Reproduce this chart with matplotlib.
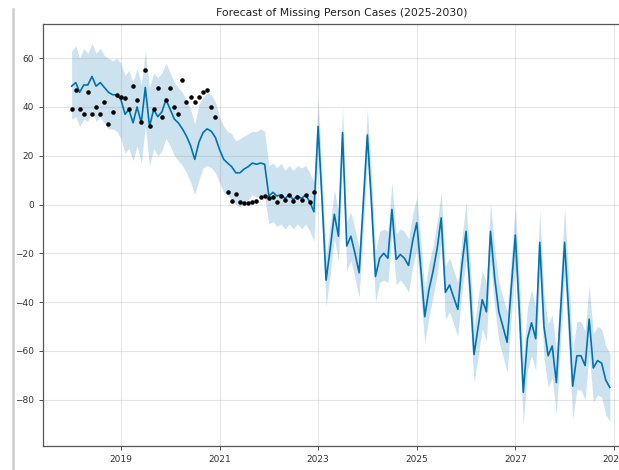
import pandas as pd
import numpy as np
import matplotlib
matplotlib.use('Agg')
import matplotlib.pyplot as plt
from matplotlib.lines import Line2D

# monthly history, Jan 2018 - Dec 2022 (None = no observation)
y_hist = [39, 47, 39, 37, 46, 37, 40, 37, 42, 33, 38, 45,
          44, 43.5, 39, 48.5, 42.7, 34, 55, 32, 39, 47.6, 35.7, 42.7,
          47.6, 40, 37, 51, 42, 44, 42, 44, 46, 47, 40, 36,
          None, None, 5, 1.5, 4.5, 1, 0.5, 0.5, 1, 1.5, 3, 3.5,
          2.5, 3, 1, 3.5, 2, 4, 1.5, 3, 2, 4, 1, 5]

# fitted + forecast, Jan 2018 - Dec 2028
yhat = [48.5, 50, 46, 49, 49, 52.5, 48.5, 50, 48, 46, 45, 45,
        43, 37, 39, 33.5, 40, 33.5, 48, 32, 39, 36, 38, 43,
        39, 35, 33.5, 31, 28, 24, 18.5, 25.5, 29.5, 31, 30, 27.5,
        22.5, 18.5, 17, 15.5, 13, 13, 14.5, 15.5, 17, 16.5, 17, 16.5,
        3.5, 5, 3.5, 4, 2.5, 4, 2, 3.5, 2.5, 4, 1, -3,
        32, 0, -31, -18, -4, -13, 29.5, -17, -13, -20, -28, 0,
        28.5, 0, -29.5, -22, -20, -22, -2, -22.5, -20.5, -22, -25, -15,
        -7.5, -27, -46, -35, -27.5, -18, -5.5, -36, -33, -38, -43, -25,
        -11, -36, -61.5, -50, -39, -44, -11, -30, -44, -50, -56.5, -35,
        -12.5, -45, -77, -55, -48.5, -55, -15.5, -50, -62, -58, -73, -45,
        -15.5, -45, -74.5, -62, -62, -66, -47, -67, -64, -65, -72, -75]

yhat_lower = [35, 36, 32, 35, 34, 39, 34, 36, 33, 31, 31, 30,
              27, 21, 23, 18, 24, 17, 32, 16, 23, 20, 22, 27,
              24, 20, 18, 16, 13, 9, 4, 10, 15, 16, 15, 13,
              9, 5, 4, 2, 0, -1, 1, 2, 4, 3, 4, 3,
              -8, -7, -9, -8, -10, -8, -10, -8, -10, -8, -11, -15,
              22, -10, -42, -28, -14, -23, 19, -27, -23, -30, -38, -10,
              18, -10, -40, -32, -31, -32, -12, -33, -31, -33, -36, -26,
              -18, -38, -57, -46, -38, -29, -16, -47, -44, -49, -54, -36,
              -23, -48, -73, -62, -51, -56, -23, -42, -56, -62, -69, -47,
              -25, -58, -90, -68, -62, -68, -29, -63, -75, -71, -86, -58,
              -29, -59, -88, -76, -76, -80, -61, -81, -78, -79, -86, -89]

yhat_upper = [63, 65, 60, 64, 62, 66, 62, 64, 61, 60, 59, 60,
              58, 53, 55, 50, 56, 49, 63, 48, 54, 52, 54, 58,
              54, 50, 48, 46, 43, 39, 33, 41, 44, 46, 45, 42,
              36, 32, 30, 29, 26, 27, 28, 29, 30, 30, 31, 30,
              16, 17, 15, 17, 14, 16, 14, 16, 15, 16, 13, 9,
              43, 10, -21, -8, 6, -3, 40, -7, -3, -10, -18, 10,
              39, 11, -19, -11, -10, -11, 9, -12, -10, -11, -14, -4,
              3, -16, -35, -24, -17, -7, 5, -25, -22, -27, -32, -14,
              1, -24, -50, -38, -27, -32, 1, -18, -32, -38, -44, -23,
              0, -32, -64, -42, -35, -42, -2, -37, -49, -45, -60, -32,
              -1, -31, -60, -48, -48, -52, -33, -53, -50, -51, -58, -61]

tick_years = [2019, 2021, 2023, 2025, 2027, 2029]
y_ticks = [60, 40, 20, 0, -20, -40, -60, -80]
title = 'Forecast of Missing Person Cases (2025-2030)'

ds_all = pd.date_range('2018-01-01', periods=len(yhat), freq='MS')
ds_hist = ds_all[:len(y_hist)]
y_hist_arr = np.array([np.nan if v is None else v for v in y_hist], dtype=float)

fig = plt.figure(figsize=(6.19, 4.70), dpi=100)
W, H = 619, 470
ax = fig.add_axes([43 / W, 1 - 446 / H, 598 / W, 422 / H])

ax.fill_between(ds_all, yhat_lower, yhat_upper, color='#0072B2', alpha=0.2, lw=0)
ax.plot(ds_all, yhat, ls='-', c='#0072B2', lw=1.2)
ax.plot(ds_hist, y_hist_arr, 'k.', ms=4.5)

ax.grid(True, which='major', c='gray', ls='-', lw=0.8, alpha=0.2)
ax.set_xlim(pd.Timestamp('2017-06-03'), pd.Timestamp('2029-07-20'))
ax.set_ylim(-99, 74)
ax.set_xticks([pd.Timestamp(f'{yr}-01-01') for yr in tick_years])
ax.set_xticklabels([str(yr) for yr in tick_years])
ax.set_yticks(y_ticks)
ax.tick_params(labelsize=6.5, length=3, width=0.6, colors='#333333')
for s in ax.spines.values():
    s.set_color('#555555')
    s.set_linewidth(0.9)
ax.set_title(title, fontsize=7.8, pad=6, color='#222222')

# screenshot border on the left
fig.add_artist(Line2D([13 / W, 13 / W], [0, 1 - 9 / H], color='#cccccc', lw=1.8))

fig.savefig('out.png', dpi=100)
